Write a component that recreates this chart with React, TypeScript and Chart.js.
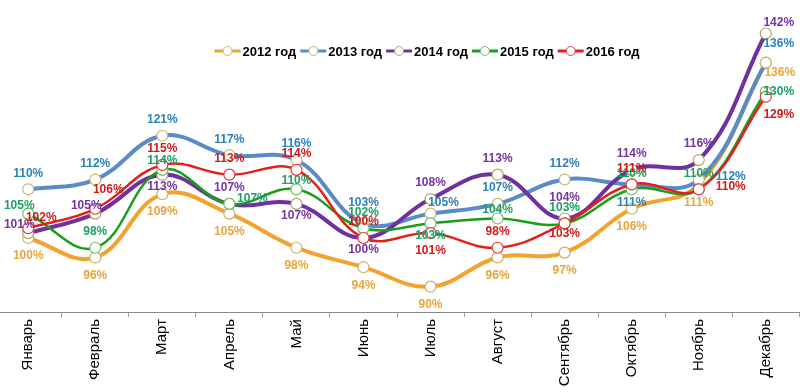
import { useEffect, useRef } from "react";
import { Chart, registerables } from "chart.js";

Chart.register(...registerables);

const months = ["Январь", "Февраль", "Март", "Апрель", "Май", "Июнь", "Июль", "Август", "Сентябрь", "Октябрь", "Ноябрь", "Декабрь"];
const seriesNames = ["2012 год", "2013 год", "2014 год", "2015 год", "2016 год"];
const y2012 = [100, 96, 109, 105, 98, 94, 90, 96, 97, 106, 111, 136];
const y2013 = [110, 112, 121, 117, 116, 103, 105, 107, 112, 111, 112, 136];
const y2014 = [101, 105, 113, 107, 107, 100, 108, 113, 104, 114, 116, 142];
const y2015 = [105, 98, 114, 107, 110, 102, 103, 104, 103, 110, 110, 130];
const y2016 = [102, 106, 115, 113, 114, 100, 101, 98, 103, 111, 110, 129];

// label placement codes (style)
const place2012 = ["b", "b", "b", "b", "b", "b", "b", "b", "b", "b", "b", "br"];
const place2013 = ["a", "a", "a", "a", "a", "a2", "ar", "a", "a", "b", "r", "ar2"];
const place2014 = ["al", "al", "b2", "a", "b2", "b2", "a", "a", "a2", "a", "a", "ar"];
const place2015 = ["al", "a", "a3", "r2", "a3", "a", "b2", "a3", "a", "a", "a", "e"];
const place2016 = ["ar", "ar2", "a", "a", "a", "a", "b", "a", "b3", "a", "r", "br2"];

const OFFSETS: Record<string, [number, number]> = {
  a: [0, -16],
  a2: [0, -21],
  a3: [0, -9],
  b: [0, 18],
  b2: [0, 12],
  b3: [0, 10],
  al: [-9, -8],
  ar: [13, -11],
  ar2: [13, -19],
  br: [14, 10],
  br2: [13, 18],
  r: [32, -3],
  r2: [23, -5],
  e: [13, 0],
};

const lineColors = ["#F2A32E", "#5B8BC7", "#7030A0", "#1A9E1A", "#E4201C"];
const labelColors = ["#E9A53A", "#2A82BF", "#7534A6", "#1FA064", "#D01A1A"];
const markerColors = ["#D0B060", "#C8B46E", "#B0A860", "#6CBF6C", "#E03A3A"];
const lineWidths = [4, 4, 4, 2.5, 2.5];

const FONT = "'Liberation Sans', Arial, sans-serif";
const CANVAS_W = 818;
const SHIFT = 12;

export default function App() {
  const ref = useRef<HTMLCanvasElement | null>(null);

  useEffect(() => {
    if (!ref.current) return;
    const values = [y2012, y2013, y2014, y2015, y2016];
    const places = [place2012, place2013, place2014, place2015, place2016];

    const labelPlugin = {
      id: "pointLabels",
      afterDatasetsDraw(chart: any) {
        const ctx = chart.ctx;
        ctx.save();
        ctx.font = `bold 12px ${FONT}`;
        ctx.textAlign = "center";
        ctx.textBaseline = "middle";
        chart.data.datasets.forEach((ds: any, i: number) => {
          const meta = chart.getDatasetMeta(i);
          meta.data.forEach((pt: any, j: number) => {
            const [dx, dy] = OFFSETS[places[i][j]] || [0, -16];
            ctx.fillStyle = labelColors[i];
            ctx.fillText(ds.data[j] + "%", pt.x + dx, pt.y + dy);
          });
        });
        ctx.restore();
      },
    };

    const legendPlugin = {
      id: "customLegend",
      afterDraw(chart: any) {
        const ctx = chart.ctx;
        ctx.save();
        ctx.font = `bold 13px ${FONT}`;
        ctx.textBaseline = "middle";
        ctx.textAlign = "left";
        const sw = 26;
        const gap = 2;
        const itemGap = 4;
        const widths = seriesNames.map((n) => sw + gap + ctx.measureText(n).width);
        const total = widths.reduce((a, b) => a + b, 0) + itemGap * (seriesNames.length - 1);
        let x = 427 + SHIFT - total / 2;
        const y = 51;
        seriesNames.forEach((n, i) => {
          ctx.strokeStyle = lineColors[i];
          ctx.lineWidth = 3;
          ctx.beginPath();
          ctx.moveTo(x, y);
          ctx.lineTo(x + sw, y);
          ctx.stroke();
          ctx.beginPath();
          ctx.arc(x + sw / 2, y, 4.5, 0, Math.PI * 2);
          ctx.fillStyle = "#ffffff";
          ctx.fill();
          ctx.lineWidth = 1;
          ctx.strokeStyle = markerColors[i];
          ctx.stroke();
          ctx.fillStyle = "#000000";
          ctx.fillText(n, x + sw + gap, y + 1);
          x += widths[i] + itemGap;
        });
        ctx.restore();
      },
    };

    const chart = new Chart(ref.current, {
      type: "line",
      data: {
        labels: months,
        datasets: seriesNames.map((name, i) => ({
          label: name,
          data: values[i],
          borderColor: lineColors[i],
          borderWidth: lineWidths[i],
          backgroundColor: "#ffffff",
          pointBackgroundColor: "#ffffff",
          pointBorderColor: markerColors[i],
          pointBorderWidth: 1.2,
          pointRadius: 5.5,
          tension: 0.4,
          fill: false,
          order: seriesNames.length - 1 - i,
        })),
      },
      options: {
        responsive: false,
        animation: false,
        devicePixelRatio: 1,
        layout: { padding: 0 },
        plugins: {
          legend: { display: false },
          tooltip: { enabled: false },
        },
        scales: {
          x: {
            type: "category",
            offset: true,
            grid: {
              display: true,
              offset: true,
              drawOnChartArea: false,
              drawTicks: true,
              tickLength: 5,
              color: "#9a9a9a",
            },
            border: { display: true, color: "#8a8a8a", width: 1 },
            ticks: {
              minRotation: 90,
              maxRotation: 90,
              autoSkip: false,
              padding: 2,
              color: "#000000",
              font: { family: FONT, size: 15 },
            },
            afterFit: (s: any) => {
              s.height = 80;
            },
          },
          y: {
            display: false,
            min: 84.8,
            max: 147.5,
          },
        },
      },
      plugins: [labelPlugin, legendPlugin],
    });
    return () => chart.destroy();
  }, []);

  return (
    <div style={{ position: "fixed", left: 0, top: 0, width: 800, height: 392, overflow: "hidden", background: "#fff" }}>
      <canvas ref={ref} width={CANVAS_W} height={392} style={{ display: "block", marginLeft: -SHIFT }} />
    </div>
  );
}
